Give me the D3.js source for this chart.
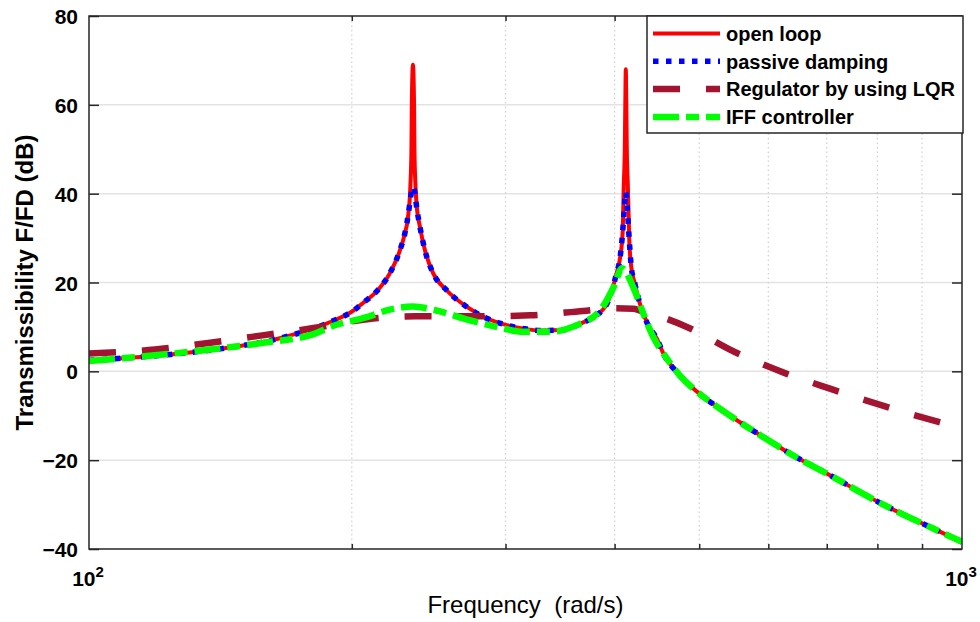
<!DOCTYPE html>
<html>
<head>
<meta charset="utf-8">
<script src="https://cdn.jsdelivr.net/npm/d3@7"></script>
<style>
    body { margin: 0; background: #fff; }
    svg { display: block; font-family: 'Liberation Sans', Arial, sans-serif; }
</style>
</head>
<body>
<div class="container"></div>
<script>
const width = 980,
    height = 622,
    margin = {left: 89, right: 18, top: 16, bottom: 73};

// values: [frequency (rad/s), dB]
const openLoop = [[100, 2.5], [124, 3.8], [143, 5.2], [165, 7.4], [189, 11.1], [201, 13.7], [206, 15.4],
    [214, 18.2], [221, 22.0], [227, 27.2], [230, 31.0], [232.2, 35.5], [233.45, 42], [234.07, 50], [234.3, 60],
    [235, 69], [235.7, 60], [235.93, 50], [236.55, 42], [237.3, 37.5], [239.4, 32.5], [242.6, 27.2], [248, 22.0],
    [257, 18.2], [271, 14.5], [285, 12.0], [301, 10.4], [315, 9.6], [329, 9.2], [349, 9.3], [365, 10.7],
    [378, 12.2], [392, 15.2], [402, 22.0], [405.7, 25.4], [408.6, 31.4], [409.8, 42], [410.9, 50], [411.45, 60],
    [412, 68], [412.55, 60], [413.1, 50], [414.2, 42], [415.8, 29.5], [418, 23.5], [422, 19.7], [427.7, 15.2],
    [437, 10.4], [447, 7.4], [455, 4.0], [475, -0.9], [500, -5.0], [528, -8.4], [564, -12.2], [600, -15.5],
    [635, -18.5], [700, -23.0], [816, -30.2], [927, -35.4], [1000, -38.4]];

const passiveDamping = [[100, 2.5], [124, 3.8], [143, 5.2], [165, 7.4], [189, 11.1], [201, 13.7], [206, 15.4],
    [214, 18.2], [221, 22.0], [227, 27.2], [230, 31.0], [232.2, 35.5], [233.7, 39.5], [235, 41.5], [236.3, 40],
    [237, 37.8], [239.4, 32.5], [242.6, 27.2], [248, 22.0], [257, 18.2], [271, 14.5], [285, 12.0], [301, 10.4],
    [315, 9.6], [329, 9.2], [349, 9.3], [365, 10.7], [378, 12.2], [392, 15.2], [402, 22.0], [405.7, 25.4],
    [408.6, 31.4], [410.5, 37], [412, 40.4], [413.5, 37], [415.8, 29.5], [418, 23.5], [422, 19.7],
    [427.7, 15.2], [437, 10.4], [447, 7.4], [455, 4.0], [475, -0.9], [500, -5.0], [528, -8.4], [564, -12.2],
    [600, -15.5], [635, -18.5], [700, -23.0], [816, -30.2], [927, -35.4], [1000, -38.4]];

const lqr = [[100, 4.0], [119, 4.9], [137, 6.4], [158, 8.1], [181.5, 9.8], [211.5, 11.9], [237, 12.4],
    [278, 12.4], [320, 12.6], [368, 13.6], [400, 14.2], [420, 14.1], [428, 13.7], [484, 10.0], [550, 4.3],
    [627, -0.4], [706, -3.9], [820, -8.0], [940, -11.4], [1000, -12.8]];

const iff = [[100, 2.3], [108.5, 2.9], [137.6, 4.9], [158, 6.4], [181.5, 8.5], [189, 10.0], [208, 12.2],
    [221, 13.9], [235, 14.6], [250, 13.7], [273, 11.5], [293, 10.0], [314.5, 8.9], [337, 8.9], [362, 10.4],
    [385, 13.7], [399, 19.0], [408, 23.2], [420, 19.0], [431.5, 13.0], [443, 7.7], [455, 4.0], [475, -0.9],
    [500, -5.0], [528, -8.4], [564, -12.2], [600, -15.5], [635, -18.5], [700, -23.0], [816, -30.2],
    [927, -35.4], [1000, -38.4]];

const yTicks = [-40, -20, 0, 20, 40, 60, 80];
const xMajor = [100, 1000];
const xMajorExp = ['2', '3'];
const xMinor = [200, 300, 400, 500, 600, 700, 800, 900];
const legendLabels = ['open loop', 'passive damping', 'Regulator by using LQR', 'IFF controller'];

const series = [
    {data: openLoop, color: '#ff0000', w: 4, dash: null},
    {data: passiveDamping, color: '#0000ff', w: 5.5, dash: '5.5,7.5'},
    {data: lqr, color: '#a2142f', w: 6.5, dash: '27,26'},
    {data: iff, color: '#00ff00', w: 6.5, dash: '26,7,13,7'}
];

const svg = d3.select('.container')
    .append('svg')
    .attr('width', width)
    .attr('height', height);

svg.append('rect').attr('width', width).attr('height', height).attr('fill', '#fff');

const x = d3.scaleLog()
    .domain([100, 1000])
    .range([margin.left, width - margin.right]);

const y = d3.scaleLinear()
    .domain([-40, 80])
    .range([height - margin.bottom, margin.top]);

const [x0, x1] = x.range(), [y0, y1] = y.range();

// grid
svg.append('g')
    .selectAll('line')
    .data(yTicks.slice(1, -1))
    .enter()
    .append('line')
    .attr('x1', x0).attr('x2', x1)
    .attr('y1', d => y(d)).attr('y2', d => y(d))
    .attr('stroke', '#e3e3e3')
    .attr('stroke-width', 1.5);

svg.append('g')
    .selectAll('line')
    .data(xMinor)
    .enter()
    .append('line')
    .attr('x1', d => x(d)).attr('x2', d => x(d))
    .attr('y1', y0).attr('y2', y1)
    .attr('stroke', '#cfcfcf')
    .attr('stroke-width', 1.2)
    .attr('stroke-dasharray', '1.5,3');

// curves
svg.append('clipPath')
    .attr('id', 'clip')
    .append('rect')
    .attr('x', x0).attr('y', y1)
    .attr('width', x1 - x0).attr('height', y0 - y1);

const line = d3.line()
    .x(d => x(d[0]))
    .y(d => y(d[1]))
    .curve(d3.curveMonotoneX);

svg.append('g')
    .attr('clip-path', 'url(#clip)')
    .selectAll('path')
    .data(series)
    .enter()
    .append('path')
    .attr('d', d => line(d.data))
    .attr('fill', 'none')
    .attr('stroke', d => d.color)
    .attr('stroke-width', d => d.w)
    .attr('stroke-linejoin', 'round')
    .attr('stroke-dasharray', d => d.dash);

// axes
const styleAxis = g => {
    g.select('.domain').remove();
    g.selectAll('.tick line').attr('stroke', '#262626').attr('stroke-width', 1.5);
    g.selectAll('text')
        .attr('font-family', "'Liberation Sans', Arial, sans-serif")
        .attr('font-size', 21)
        .attr('font-weight', 'bold')
        .attr('fill', '#000');
};

svg.append('g')
    .attr('transform', `translate(${x0},0)`)
    .call(d3.axisLeft(y).tickValues(yTicks).tickSize(-10).tickPadding(11).tickFormat(d3.format('d')))
    .call(styleAxis)
    .selectAll('text').attr('dy', '0.36em');

svg.append('g')
    .attr('transform', `translate(${x1},0)`)
    .call(d3.axisRight(y).tickValues(yTicks).tickSize(-10).tickFormat(''))
    .call(styleAxis);

svg.append('g')
    .attr('transform', `translate(0,${y0})`)
    .call(d3.axisBottom(x).tickValues(xMinor).tickSize(-5).tickFormat(''))
    .call(styleAxis);

svg.append('g')
    .attr('transform', `translate(0,${y1})`)
    .call(d3.axisTop(x).tickValues(xMinor).tickSize(-5).tickFormat(''))
    .call(styleAxis);

const xLabels = svg.append('g')
    .selectAll('text')
    .data(xMajor)
    .enter()
    .append('text')
    .attr('x', d => x(d) - 1)
    .attr('y', y0 + 37)
    .attr('text-anchor', 'middle')
    .attr('font-weight', 'bold')
    .attr('font-size', 21);

xLabels.append('tspan').text('10');
xLabels.append('tspan')
    .attr('dy', -9)
    .attr('font-size', 15)
    .text((d, i) => xMajorExp[i]);

svg.append('rect')
    .attr('x', x0).attr('y', y1)
    .attr('width', x1 - x0).attr('height', y0 - y1)
    .attr('fill', 'none')
    .attr('stroke', '#262626')
    .attr('stroke-width', 1.5);

// axis titles
svg.append('text')
    .attr('x', (x0 + x1) / 2)
    .attr('y', 613)
    .attr('text-anchor', 'middle')
    .attr('font-size', 24)
    .style('white-space', 'pre')
    .text('Frequency  (rad/s)');

svg.append('text')
    .attr('transform', `translate(32.5,${(y0 + y1) / 2}) rotate(-90)`)
    .attr('text-anchor', 'middle')
    .attr('font-size', 24)
    .attr('font-weight', 'bold')
    .text('Transmissibility F/FD (dB)');

// legend
const legend = svg.append('g')
    .attr('id', 'legend');

legend.append('rect')
    .attr('x', 647).attr('y', y1)
    .attr('width', x1 - 647 + 1).attr('height', 117)
    .attr('fill', '#fff')
    .attr('stroke', '#262626')
    .attr('stroke-width', 1.5);

const rows = legend.selectAll('.row')
    .data(series)
    .enter()
    .append('g')
    .attr('class', 'row')
    .attr('transform', (d, i) => `translate(0,${33.5 + i * 27.8})`);

rows.append('line')
    .attr('x1', 653).attr('x2', 720)
    .attr('stroke', d => d.color)
    .attr('stroke-width', d => d.w)
    .attr('stroke-dasharray', d => d.dash);

rows.append('text')
    .attr('x', 726)
    .attr('dy', '0.36em')
    .attr('font-size', 20)
    .attr('font-weight', 'bold')
    .text((d, i) => legendLabels[i]);
</script>
</body>
</html>
